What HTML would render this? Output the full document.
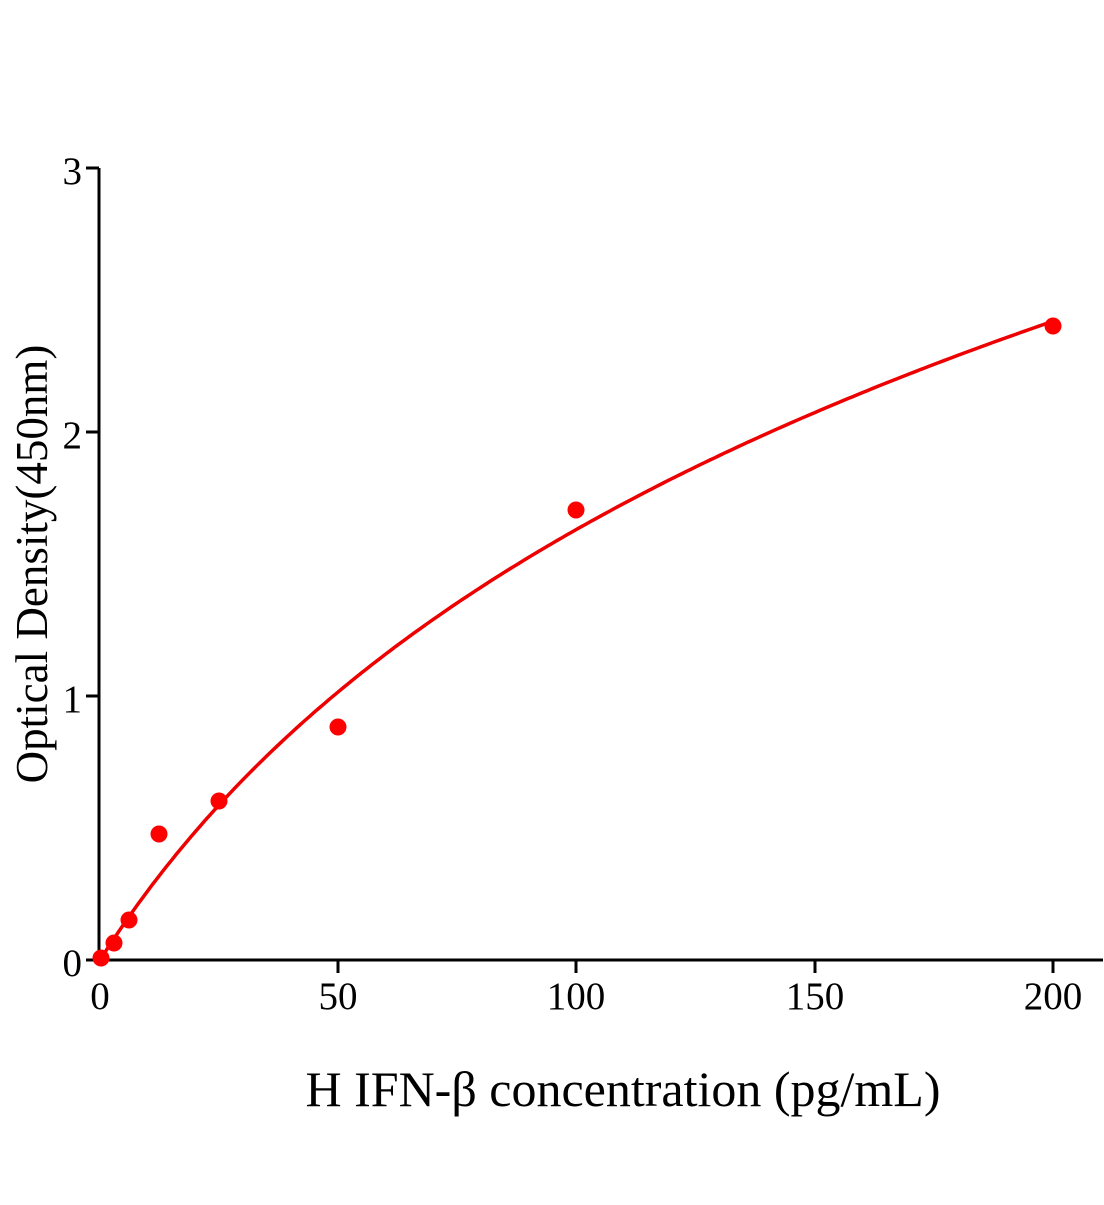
<!DOCTYPE html>
<html><head><meta charset="utf-8"><style>html,body{margin:0;padding:0;background:#fff}</style></head>
<body>
<svg width="1104" height="1200" xmlns="http://www.w3.org/2000/svg" font-family="Liberation Serif, serif">
<rect width="1104" height="1200" fill="#fff"/>
<g stroke="#000" stroke-width="3" fill="none">
<line x1="99" y1="168" x2="99" y2="962"/>
<line x1="86" y1="960" x2="1103" y2="960"/>
<line x1="86" y1="168" x2="99" y2="168"/>
<line x1="86" y1="432" x2="99" y2="432"/>
<line x1="86" y1="696" x2="99" y2="696"/>
<line x1="338" y1="960" x2="338" y2="973"/>
<line x1="576" y1="960" x2="576" y2="973"/>
<line x1="815" y1="960" x2="815" y2="973"/>
<line x1="1053" y1="960" x2="1053" y2="973"/>
</g>
<g font-size="39" text-anchor="end">
<text x="82" y="184">3</text>
<text x="82" y="448">2</text>
<text x="82" y="712">1</text>
<text x="82" y="976">0</text>
</g>
<g font-size="39" text-anchor="middle">
<text x="100" y="1009">0</text>
<text x="338" y="1009">50</text>
<text x="576" y="1009">100</text>
<text x="815" y="1009">150</text>
<text x="1053" y="1009">200</text>
</g>
<text x="623" y="1106" font-size="50" text-anchor="middle">H IFN-β concentration (pg/mL)</text>
<text transform="translate(47,564) rotate(-90)" font-size="45" text-anchor="middle">Optical Density(450nm)</text>
<polyline id="curve" fill="none" stroke="#e00" stroke-width="3.5" points=""/>
<g fill="#f00">
<circle cx="101" cy="958" r="8.5"/>
<circle cx="114" cy="943" r="8.5"/>
<circle cx="129" cy="920" r="8.5"/>
<circle cx="159" cy="834" r="8.5"/>
<circle cx="219" cy="801" r="8.5"/>
<circle cx="338" cy="727" r="8.5"/>
<circle cx="576" cy="510" r="8.5"/>
<circle cx="1053" cy="326" r="8.5"/>
</g>
</svg>
<script>
var pts=[];for(var x=0;x<=200;x+=1){var y=1.592*Math.log(1+x/56);pts.push((100+4.765*x).toFixed(1)+","+(960-264*y).toFixed(1));}
document.getElementById("curve").setAttribute("points",pts.join(" "));
</script>
</body></html>
